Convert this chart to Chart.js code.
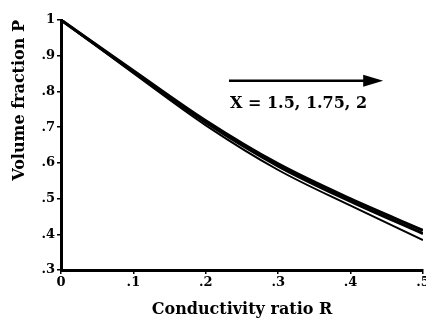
<!DOCTYPE html>
<html>
<head>
<meta charset="utf-8">
<script src="https://cdn.jsdelivr.net/npm/chart.js@4.4.0/dist/chart.umd.min.js"></script>
<style>
  html, body { margin: 0; padding: 0; background: #fff; }
  #wrap { width: 426px; height: 323px; }
</style>
</head>
<body>
<div id="wrap"><canvas id="grafica"></canvas></div>
<script>
// datos
const razonR = [0, 0.1, 0.2, 0.3, 0.4, 0.5];
const pX2 = [1, 0.858, 0.718, 0.597, 0.499, 0.411];
const pX175 = [1, 0.855, 0.713, 0.591, 0.492, 0.402];
const pX15 = [1, 0.851, 0.705, 0.580, 0.480, 0.384];
const ticksY = [1, 0.9, 0.8, 0.7, 0.6, 0.5, 0.4, 0.3];
const ticksX = [0, 0.1, 0.2, 0.3, 0.4, 0.5];
const etiqueta = "X = 1.5, 1.75, 2";

const fuente = "'DejaVu Serif', serif";

function sinCero(v) {
  if (v === 0) return "0";
  if (v === 1) return "1";
  return String(+v.toFixed(2)).replace(/^0/, "");
}

function puntos(ys) {
  return razonR.map((r, i) => ({ x: r, y: ys[i] }));
}

// flecha y texto de la leyenda
const anotacion = {
  id: "anotacion",
  afterDraw(chart) {
    const { ctx, scales } = chart;
    const x0 = scales.x.getPixelForValue(0.232);
    const x1 = scales.x.getPixelForValue(0.445);
    const y = scales.y.getPixelForValue(0.83);
    ctx.save();
    ctx.strokeStyle = "#000";
    ctx.fillStyle = "#000";
    ctx.lineWidth = 2.5;
    ctx.beginPath();
    ctx.moveTo(x0, y);
    ctx.lineTo(x1 - 14, y);
    ctx.stroke();
    ctx.beginPath();
    ctx.moveTo(x1, y);
    ctx.lineTo(x1 - 20, y - 6);
    ctx.lineTo(x1 - 20, y + 6);
    ctx.closePath();
    ctx.fill();
    ctx.font = "bold 16px " + fuente;
    ctx.textBaseline = "middle";
    ctx.fillText(etiqueta, x0 + 1, y + 23);
    ctx.restore();
  }
};

const serie = (datos, ancho) => ({
  data: puntos(datos),
  borderColor: "#000",
  borderWidth: ancho,
  pointRadius: 0,
  fill: false,
  cubicInterpolationMode: "monotone"
});

new Chart(document.getElementById("grafica"), {
  type: "line",
  data: {
    datasets: [serie(pX2, 3), serie(pX175, 3), serie(pX15, 2)]
  },
  options: {
    responsive: true,
    maintainAspectRatio: false,
    animation: false,
    layout: { padding: { top: 20, right: 3, left: 0, bottom: 0 } },
    plugins: { legend: { display: false }, tooltip: { enabled: false } },
    scales: {
      x: {
        type: "linear",
        min: 0,
        max: 0.5,
        afterBuildTicks(s) { s.ticks = ticksX.map(v => ({ value: v })); },
        afterFit(s) { s.height = 53; s.paddingRight = 0; s.paddingLeft = 0; },
        grid: { drawOnChartArea: false, drawTicks: true, tickLength: 4, color: "#000", lineWidth: 1.5 },
        border: { display: true, color: "#000", width: 3 },
        ticks: {
          color: "#000",
          padding: 1,
          maxRotation: 0,
          font: { family: fuente, weight: "bold", size: 13 },
          callback: v => sinCero(v)
        },
        title: {
          display: true,
          text: "Conductivity ratio R",
          color: "#000",
          padding: { top: 6 },
          font: { family: fuente, weight: "bold", size: 16 }
        }
      },
      y: {
        type: "linear",
        min: 0.3,
        max: 1,
        afterBuildTicks(s) { s.ticks = ticksY.map(v => ({ value: v })); },
        afterFit(s) { s.width = 61; s.paddingTop = 0; s.paddingBottom = 0; },
        grid: { drawOnChartArea: false, drawTicks: true, tickLength: 4, color: "#000", lineWidth: 1.5 },
        border: { display: true, color: "#000", width: 3 },
        ticks: {
          color: "#000",
          padding: 2,
          font: { family: fuente, weight: "bold", size: 13 },
          callback: v => sinCero(v)
        },
        title: {
          display: true,
          text: "Volume fraction P",
          align: "end",
          color: "#000",
          padding: { top: 10, bottom: 4 },
          font: { family: fuente, weight: "bold", size: 16 }
        }
      }
    }
  },
  plugins: [anotacion]
});
</script>
</body>
</html>
